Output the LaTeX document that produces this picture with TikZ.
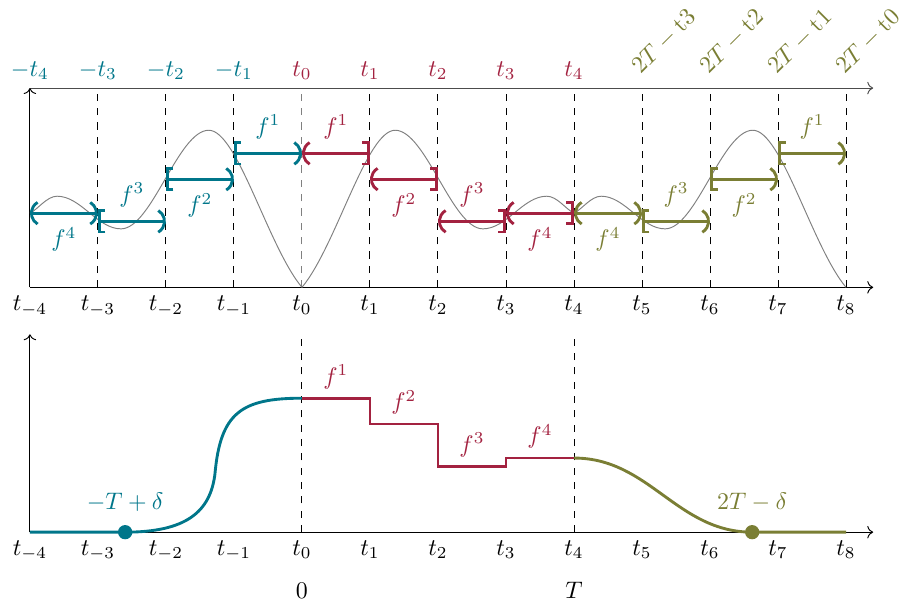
\documentclass[tikz,border=0pt]{standalone}
\usepackage{amsmath,amssymb}
\usepackage{tikz}
\usetikzlibrary{arrows.meta,positioning}
\definecolor{tealc}{RGB}{0,118,138}
\definecolor{redc}{RGB}{163,34,64}
\definecolor{olivec}{RGB}{122,126,52}

\begin{document}
\begin{tikzpicture}
\tikzset{axisline/.style={->,black},guide/.style={dashed,black},
  wave/.style={gray,line width=0.4pt},farr/.style={very thick},
  oo/.style={arrows={{Parenthesis[scale=1.3]}-{Parenthesis[scale=1.3]}}},
  co/.style={arrows={{Bracket[scale=1.3]}-{Parenthesis[scale=1.3]}}},
  oc/.style={arrows={{Parenthesis[scale=1.3]}-{Bracket[scale=1.3]}}},
  fline/.style={very thick},dotnode/.style={circle,inner sep=0pt,minimum size=0.21cm}}
\useasboundingbox (-4.44,-4.643) rectangle (8.882,4.225);
% upper panel: the wave, reflected at t_0 and at t_4
\foreach \i in {-3,-2,-1,1,2,...,8}
    \draw[guide] (\i,0) -- (\i,2.93);
\draw[guide,gray] (0,0) -- (0,2.93);
\draw[axisline] (-4,0) -- (8.4,0);
\draw[axisline,black!70] (-4,2.93) -- (8.4,2.93);
\draw[axisline] (-4,0) -- (-4,2.93);
\foreach \s/\m in {0/1,0/-1,8/-1}
    \draw[wave,xshift=\s cm,xscale=\m] (0,0) .. controls (0.5,0.6) and (0.95,2.31) .. (1.37,2.31)
        .. controls (1.82,2.31) and (2.21,0.86) .. (2.66,0.86)
        .. controls (3.01,0.86) and (3.25,1.34) .. (3.6,1.34)
        .. controls (3.75,1.34) and (3.88,1.15) .. (4,1.09);
% the pieces f^k on each interval
\foreach \a/\y/\tip/\pos/\k in {-4/1.09/oo/below/4,-3/0.97/co/above/3,-2/1.59/co/below/2,-1/1.97/co/above/1}
    \draw[farr,tealc,\tip] (\a,\y) -- node[\pos=0.7mm] (tf\k) {$f^{\k}$} (\a+1,\y);
\foreach \a/\y/\pos/\k in {0/1.97/above/1,1/1.59/below/2,2/0.97/above/3,3/1.09/below/4}
    \draw[farr,redc,oc] (\a,\y) -- node[\pos=0.7mm] (rf\k) {$f^{\k}$} (\a+1,\y);
\foreach \a/\y/\tip/\pos/\k in {4/1.09/oo/below/4,5/0.97/co/above/3,6/1.59/co/below/2,7/1.97/co/above/1}
    \draw[farr,olivec,\tip] (\a,\y) -- node[\pos=0.7mm] (of\k) {$f^{\k}$} (\a+1,\y);
\foreach \i in {1,...,4}
    \node[above,tealc] (mt\i) at (-\i,2.93) {$-t_{\i}$};
\foreach \i in {0,...,4}
    \node[above,redc] (pt\i) at (\i,2.93) {$t_{\i}$};
\foreach \i in {0,...,3}
    \node[olivec,rotate=45,anchor=south west] (rt\i) at (8-\i,2.93) {$2T-\mathrm{t}\i$};
\foreach \i in {-4,...,8} {
    \node[below] (ut\i) at (\i,0) {$t_{\i}$};
    \node[below] (lt\i) at (\i,-3.6) {$t_{\i}$};
}
% lower panel: the extended profile
\begin{scope}[yshift=-3.6cm]
\draw[guide] (0,0) -- (0,2.93);
\draw[guide] (4,0) -- (4,2.93);
\draw[axisline] (-4,0) -- (8.4,0);
\draw[axisline] (-4,0) -- (-4,2.91);
\coordinate (dotl) at (-2.6,0);
\coordinate (dotr) at (6.62,0);
\draw[fline,tealc] (-4,0) -- (dotl) .. controls (-1.7,0) and (-1.35,0.3) .. (-1.28,0.85)
    .. controls (-1.2,1.75) and (-0.9,1.97) .. (0,1.97);
\draw[fline,redc] (0,1.97) -- node[above] (sf1) {$f^1$} (1,1.97) -- (1,1.59)
    -- node[above] (sf2) {$f^2$} (2,1.59) -- (2,0.97)
    -- node[above] (sf3) {$f^3$} (3,0.97) -- (3,1.09)
    -- node[above] (sf4) {$f^4$} (4,1.09);
\draw[fline,olivec] (4,1.09) to[out=0,in=180] (dotr) -- (8,0);
\node[dotnode,fill=tealc] (dl) at (dotl) {};
\node[dotnode,fill=olivec] (dr) at (dotr) {};
\node[tealc,above=0.75mm of dl] (lbl) {$-T+\delta$};
\node[olivec,above=0.75mm of dr] (lbr) {$2T-\delta$};
\end{scope}
\node[below=0.1cm of lt0] (zero) {$0$};
\node[below=0.1cm of lt4] (bigT) {$T$};
\end{tikzpicture}
\end{document}
